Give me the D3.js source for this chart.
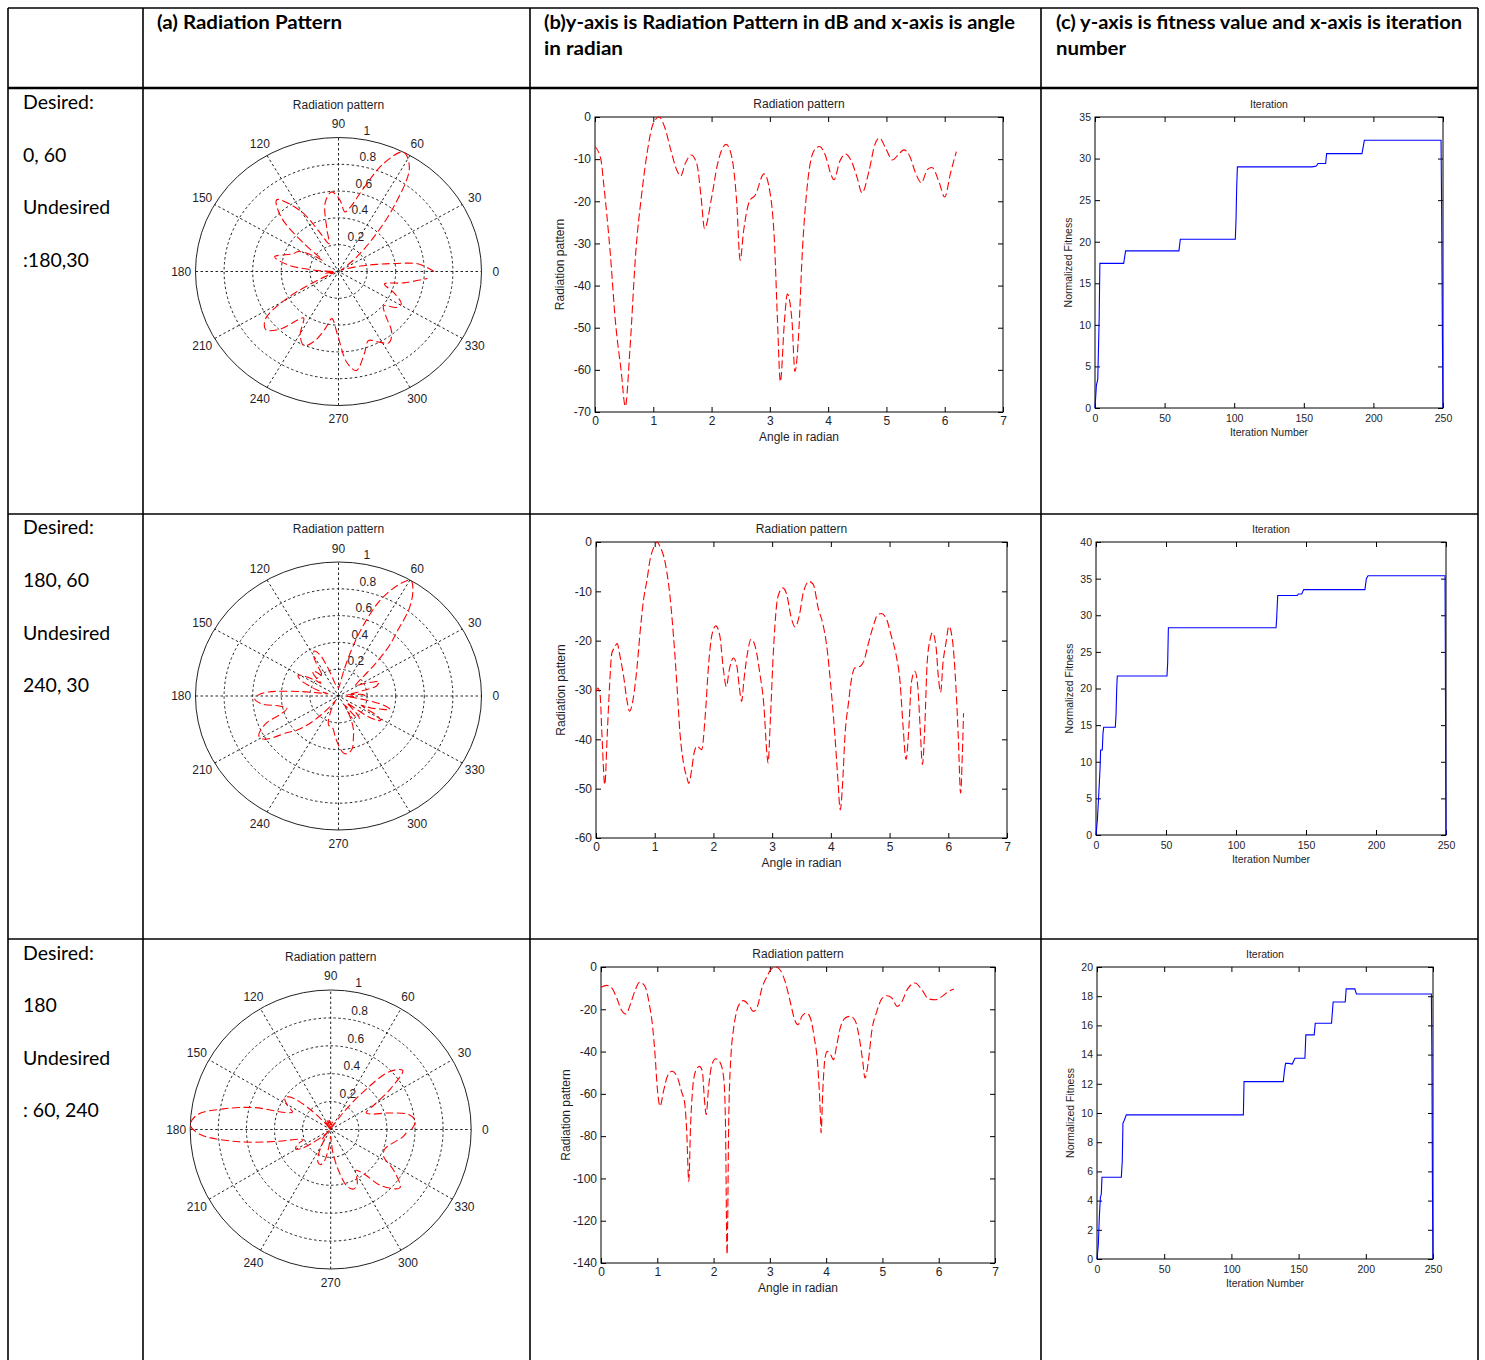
<!DOCTYPE html>
<html><head><meta charset="utf-8">
<script src="https://cdn.jsdelivr.net/npm/d3@7"></script>
<style>body{margin:0;background:#fff}svg{display:block}</style>
</head><body>
<svg id="c" width="1485" height="1360"></svg>
<script>
// ---------------- DATA ----------------
const headerLines = [
  ["(a) Radiation Pattern"],
  ["(b)y-axis is Radiation Pattern in dB and x-axis is angle", "in radian"],
  ["(c) y-axis is fitness value and x-axis is iteration", "number"]
];
const conditionLabels = [
  ["Desired:", "0, 60", "Undesired", ":180,30"],
  ["Desired:", "180, 60", "Undesired", "240, 30"],
  ["Desired:", "180", "Undesired", ": 60, 240"]
];
const polarTitle = "Radiation pattern";
const lineTitle = "Radiation pattern";
const lineXLabel = "Angle in radian";
const lineYLabel = "Radiation pattern";
const fitTitle = "Iteration";
const fitXLabel = "Iteration Number";
const fitYLabel = "Normalized Fitness";

const polarAngleTicks = [0, 30, 60, 90, 120, 150, 180, 210, 240, 270, 300, 330];
const polarRingTicks = [0.2, 0.4, 0.6, 0.8, 1];
const angleTicks = [0, 1, 2, 3, 4, 5, 6, 7];
const dbTicks1 = [-70, -60, -50, -40, -30, -20, -10, 0];
const dbTicks2 = [-60, -50, -40, -30, -20, -10, 0];
const dbTicks3 = [-140, -120, -100, -80, -60, -40, -20, 0];
const iterTicks = [0, 50, 100, 150, 200, 250];
const fitTicks1 = [0, 5, 10, 15, 20, 25, 30, 35];
const fitTicks2 = [0, 5, 10, 15, 20, 25, 30, 35, 40];
const fitTicks3 = [0, 2, 4, 6, 8, 10, 12, 14, 16, 18, 20];

// Row 1 : angle (rad), pattern (dB), normalised polar gain
const angle1 = [0,0.1,0.15,0.2,0.26,0.35,0.45,0.52,0.6,0.7, 0.8,0.9,1.0,1.1,1.2, 1.3,1.4,1.47,1.55,1.65, 1.75,1.82,1.88,2.0,2.1, 2.25,2.35,2.43,2.49,2.55, 2.65,2.75,2.9,3.0,3.08, 3.13,3.18,3.25,3.3,3.38, 3.43,3.5,3.55,3.65,3.75, 3.85,3.95,4.05,4.1,4.2, 4.3,4.4,4.5,4.58,4.7, 4.8,4.88,5.0,5.1,5.2, 5.3,5.4,5.5,5.6,5.7, 5.78,5.9,6.0,6.1,6.2];
const dB1 = [-7,-10,-16,-22.8,-32,-48.5,-60.4,-68.7,-55,-32, -18.4,-8,-1.5,0,-2.6, -7.8,-12.5,-14,-11,-9, -11.3,-19,-26.5,-19.2,-11.3, -6.5,-9.7,-20,-34,-27, -20,-18.5,-13.5,-17.7,-30, -48,-62.8,-48.5,-42,-48.5, -60.4,-50,-34,-15.3,-8.2, -7,-9,-13.7,-14.9,-10.5, -8.8,-10.5,-14.5,-18,-12.9, -6.6,-5,-7.8,-10.2,-9, -7.8,-9.3,-13.3,-15.6,-12.5, -12,-15.3,-19,-13.3,-8.2];
const gain1 = [0.668,0.562,0.398,0.269,0.158,0.061,0.031,0.019,0.042,0.158, 0.347,0.631,0.917,1,0.861, 0.638,0.487,0.447,0.531,0.596, 0.522,0.335,0.218,0.331,0.522, 0.688,0.572,0.316,0.141,0.211, 0.316,0.345,0.460,0.361,0.178, 0.063,0.027,0.061,0.089,0.061, 0.031,0.056,0.141,0.415,0.624, 0.668,0.596,0.455,0.424,0.546, 0.603,0.546,0.434,0.355,0.476, 0.684,0.750,0.638,0.556,0.596, 0.638,0.586,0.465,0.407,0.487, 0.501,0.415,0.335,0.465,0.624];

// Row 2
const angle2 = [0,0.03,0.07,0.1,0.15,0.19,0.23,0.27,0.31,0.36, 0.41,0.47,0.53,0.57,0.63, 0.7,0.75,0.81,0.87,0.92, 0.98,1.04,1.09,1.18,1.26, 1.32,1.38,1.43,1.49,1.55, 1.58,1.63,1.67,1.72,1.8, 1.86,1.92,1.97,2.04,2.11, 2.17,2.22,2.27,2.34,2.4, 2.44,2.48,2.52,2.58,2.64, 2.71,2.79,2.86,2.91,2.93, 2.97,3.02,3.08,3.13,3.18, 3.25,3.32,3.39,3.46,3.53, 3.63,3.7,3.79,3.86,3.93, 4.0,4.07,4.12,4.16,4.2, 4.24,4.3,4.35,4.41,4.5, 4.56,4.64,4.72,4.8,4.86, 4.95,5.03,5.11,5.18,5.23, 5.28,5.33,5.37,5.43,5.48, 5.52,5.56,5.6,5.64,5.69, 5.73,5.79,5.83,5.87,5.91, 5.96,6.01,6.07,6.13,6.17, 6.21,6.24,6.26];
const dB2 = [-30.3,-29.6,-31,-38.7,-49.2,-39.4,-29.3,-22.5,-21.5,-20.6, -23.2,-27.2,-32.3,-34.3,-32, -25.2,-18.4,-11.7,-7.6,-3.6, -1.2,0,-0.9,-4.3,-11, -19.1,-29.3,-38.7,-44.8,-47.8, -48.9,-46.1,-42.8,-41.4,-42.1, -35.3,-24.5,-19.1,-17,-19.1, -25.9,-29.3,-25.9,-23.5,-25.2, -29.3,-32.3,-27.9,-22.5,-19.7, -21.1,-26.6,-33.3,-42.8,-44.8, -36,-22.5,-12.4,-10,-9.3, -10.7,-15.1,-17.2,-15.1,-10.3, -8,-8.6,-13.7,-16.4,-21.1, -29.3,-39.4,-48.2,-54.3,-48.9, -39.4,-32.6,-27.9,-25.5,-25.2, -24.2,-20.5,-17.1,-14.7,-14.5, -15.7,-19.1,-22.8,-28.6,-37.4, -44.1,-37.4,-28.6,-26.2,-29.3, -37.4,-45.1,-37.4,-24.5,-19.8, -18.4,-21.1,-27.2,-30.5,-24.5, -20.5,-17.1,-19.8,-29.3,-39.4, -50.9,-42.8,-34.7];
const gain2 = [0.175,0.182,0.168,0.108,0.059,0.104,0.185,0.274,0.290,0.305, 0.263,0.209,0.156,0.139,0.158, 0.234,0.347,0.510,0.646,0.813, 0.933,1,0.950,0.781,0.531, 0.333,0.185,0.108,0.076,0.064, 0.060,0.070,0.085,0.092,0.089, 0.131,0.244,0.333,0.376,0.333, 0.225,0.185,0.225,0.259,0.234, 0.185,0.156,0.201,0.274,0.322, 0.297,0.216,0.147,0.085,0.076, 0.126,0.274,0.490,0.562,0.586, 0.540,0.419,0.372,0.419,0.553, 0.631,0.610,0.455,0.389,0.297, 0.185,0.104,0.062,0.044,0.060, 0.104,0.153,0.201,0.230,0.234, 0.248,0.307,0.374,0.429,0.434, 0.405,0.333,0.269,0.193,0.116, 0.079,0.116,0.193,0.221,0.185, 0.116,0.075,0.116,0.244,0.320, 0.347,0.297,0.209,0.173,0.244, 0.307,0.374,0.320,0.185,0.104, 0.053,0.085,0.136];

// Row 3
const angle3 = [0,0.1,0.19,0.28,0.36,0.44,0.52,0.6,0.69,0.78, 0.86,0.92,0.96,1.0,1.05, 1.11,1.18,1.26,1.35,1.43, 1.49,1.52,1.56,1.59,1.63, 1.68,1.75,1.8,1.84,1.87, 1.91,1.97,2.04,2.12,2.18, 2.21,2.24,2.27,2.31,2.35, 2.41,2.47,2.53,2.62,2.71, 2.78,2.86,2.95,3.03,3.11, 3.18,3.27,3.36,3.44,3.5, 3.57,3.65,3.72,3.79,3.85, 3.9,3.91,3.94,3.98,4.02, 4.08,4.13,4.19,4.25,4.34, 4.43,4.52,4.59,4.65,4.69, 4.75,4.81,4.9,4.99,5.08, 5.17,5.26,5.35,5.44,5.58, 5.7,5.82,5.94,6.06,6.18, 6.27];
const dB3 = [-9.6,-8.7,-9.9,-14.7,-20.2,-22.2,-17.8,-11.5,-7.1,-9.1, -17.8,-28.9,-41.5,-57.2,-65.9, -58.8,-51.7,-49.3,-51.7,-58.8, -65.1,-76.1,-101.4,-76.1,-57.2, -49.3,-47,-49.3,-63.5,-69.8, -57.2,-46.2,-43.4,-45.4,-52.5, -71.4,-136,-71.4,-41.5,-30.4, -21,-17,-15.9,-17.8,-21, -18.6,-9.9,-4.4,-0.8,0, -1.3,-6.8,-16.2,-24.9,-27.3, -23.3,-21.8,-24.1,-33.6,-46.2, -71.4,-78.5,-58.8,-43,-39.9, -41.5,-43.8,-36.7,-28.9,-24.1, -23.3,-25.7,-33.6,-44.6,-52.5, -44.6,-30.4,-21,-15,-13.6, -14.7,-18.6,-16.2,-10.7,-7.6, -10.7,-15.1,-15.5,-13.9,-11.5, -10.4];
const gain3 = [0.575,0.606,0.566,0.429,0.313,0.279,0.359,0.516,0.665,0.592, 0.359,0.189,0.092,0.037,0.023, 0.034,0.051,0.059,0.051,0.034, 0.024,0.013,0.003,0.013,0.037, 0.059,0.067,0.059,0.026,0.018, 0.037,0.070,0.082,0.073,0.049, 0.016,0.0004,0.016,0.092,0.174, 0.299,0.376,0.400,0.359,0.299, 0.343,0.566,0.776,0.955,1, 0.928,0.676,0.394,0.238,0.208, 0.262,0.285,0.250,0.145,0.070, 0.016,0.011,0.034,0.084,0.101, 0.092,0.080,0.121,0.189,0.250, 0.262,0.228,0.145,0.077,0.049, 0.077,0.174,0.299,0.422,0.457, 0.429,0.343,0.394,0.540,0.646, 0.540,0.419,0.410,0.449,0.516, 0.550];

// Fitness vs iteration
const iter1 = [0,1,2,3,3.5,20.6,22,60.3,61.3,100.8,101.3,101.8,102.3,156,159,160.2,165.7,166.4,191.8,193.5,248.6,249,249.3,249.6,250];
const fit1  = [0,2.7,3.5,10.8,17.4,17.4,18.9,18.9,20.3,20.3,22.6,26.6,29,29,29.1,29.4,29.4,30.6,30.6,32.2,32.2,24.2,16,8,0];
const iter2 = [0,1,1.9,2.9,3.3,4.5,5,5.5,13.8,14.3,14.8,15.2,50.7,51.2,51.7,128.6,129,129.8,143.8,144.5,147,148.3,192.1,193.1,194.3,249.3,249.5,249.8,250];
const fit2  = [0,2.1,5.3,9.1,11.6,11.6,13.9,14.7,14.7,16.4,20,21.7,21.7,23.5,28.3,28.3,29.4,32.7,32.7,32.9,32.9,33.5,33.5,35,35.4,35.4,26.8,8.8,0];
const iter3 = [0,1,1.7,2.5,3.2,3.7,18.1,18.8,19.3,20.3,21.8,108.9,109.4,138.6,139.4,140.3,142.6,145.3,147.3,154.7,155.4,161.6,162.4,174.5,175.7,184.7,185.4,191.8,193,248.8,249.2,249.6,250];
const fit3  = [0,1,2.8,4.2,4.45,5.6,5.6,6.7,9.3,9.5,9.87,9.87,12.15,12.15,12.85,13.4,13.4,13.35,13.75,13.75,15.35,15.35,16.15,16.15,17.6,17.6,18.5,18.5,18.15,18.15,13.6,4.5,0];

// ---------------- LAYOUT ----------------
const FONT_CHART = "'Liberation Sans', Arial, Helvetica, sans-serif";
const FONT_DOC = "Lato, 'Open Sans', sans-serif";
const TXT = "#1e1e2a";
const svg = d3.select("#c");

const rows = [
  { polarBox: {cx: 338.5, cy: 271.5, rx: 143, ry: 134},
    lineBox: {l: 595, r: 1003, t: 117, b: 412}, fitBox: {l: 1095, r: 1443, t: 117, b: 408},
    angle: angle1, dB: dB1, gain: gain1, dbDomain: [-70, 0], dbTicks: dbTicks1,
    iter: iter1, fitness: fit1, fitDomain: [0, 35], fitTicks: fitTicks1, textY: [109, 162, 214, 267] },
  { polarBox: {cx: 338.5, cy: 696, rx: 143, ry: 134},
    lineBox: {l: 596, r: 1007, t: 542, b: 838}, fitBox: {l: 1096, r: 1446, t: 542, b: 835},
    angle: angle2, dB: dB2, gain: gain2, dbDomain: [-60, 0], dbTicks: dbTicks2,
    iter: iter2, fitness: fit2, fitDomain: [0, 40], fitTicks: fitTicks2, textY: [534, 587, 640, 692] },
  { polarBox: {cx: 330.7, cy: 1129.5, rx: 140.5, ry: 139.5},
    lineBox: {l: 601, r: 995, t: 967, b: 1263}, fitBox: {l: 1097, r: 1433, t: 967, b: 1259},
    angle: angle3, dB: dB3, gain: gain3, dbDomain: [-140, 0], dbTicks: dbTicks3,
    iter: iter3, fitness: fit3, fitDomain: [0, 20], fitTicks: fitTicks3, textY: [960, 1012, 1065, 1117] }
];

// ---------------- TABLE ----------------
const colX = [8, 143, 530, 1041, 1478];
const rowY = [8, 88, 514, 939];
const tbl = svg.append("g");
colX.forEach(x => tbl.append("line").attr("x1", x).attr("x2", x).attr("y1", 8).attr("y2", 1360)
  .attr("stroke", "#000").attr("stroke-width", 1.6));
rowY.forEach((y, i) => tbl.append("line").attr("x1", 8).attr("x2", 1478).attr("y1", y).attr("y2", y)
  .attr("stroke", "#000").attr("stroke-width", i === 1 ? 2.6 : 1.6));

const headerPos = [
  {x: 157, w: [185]},
  {x: 544, w: [471, 79]},
  {x: 1056, w: [406, 70]}
];
headerLines.forEach((lines, i) => {
  lines.forEach((s, j) => {
    tbl.append("text").attr("x", headerPos[i].x).attr("y", 29 + j * 26)
      .attr("font-family", FONT_DOC).attr("font-weight", "bold").attr("font-size", 19)
      .attr("textLength", headerPos[i].w[j]).attr("lengthAdjust", "spacingAndGlyphs")
      .attr("fill", "#000").text(s);
  });
});
rows.forEach((row, i) => {
  conditionLabels[i].forEach((s, j) => {
    tbl.append("text").attr("x", 23).attr("y", row.textY[j])
      .attr("font-family", FONT_DOC).attr("font-size", 19.5).attr("fill", "#000").text(s);
  });
});

// ---------------- POLAR ----------------
function polarChart(cfg, angles, gains) {
  const g = svg.append("g");
  const sx = d3.scaleLinear().domain([-1, 1]).range([cfg.cx - cfg.rx, cfg.cx + cfg.rx]);
  const sy = d3.scaleLinear().domain([-1, 1]).range([cfg.cy + cfg.ry, cfg.cy - cfg.ry]);
  const rad = d => d * Math.PI / 180;
  polarAngleTicks.filter(a => a < 180).forEach(a => {
    g.append("line")
      .attr("x1", sx(-Math.cos(rad(a)))).attr("y1", sy(-Math.sin(rad(a))))
      .attr("x2", sx(Math.cos(rad(a)))).attr("y2", sy(Math.sin(rad(a))))
      .attr("stroke", "#222").attr("stroke-width", 1).attr("stroke-dasharray", "2.5,2.5");
  });
  polarRingTicks.forEach(r => {
    g.append("ellipse").attr("cx", sx(0)).attr("cy", sy(0))
      .attr("rx", sx(r) - sx(0)).attr("ry", sy(0) - sy(r))
      .attr("fill", "none").attr("stroke", "#222")
      .attr("stroke-width", 1)
      .attr("stroke-dasharray", r === 1 ? null : "2.5,2.5");
  });
  polarAngleTicks.forEach(a => {
    g.append("text").attr("x", sx(1.1 * Math.cos(rad(a)))).attr("y", sy(1.1 * Math.sin(rad(a))))
      .attr("dy", "0.36em").attr("text-anchor", "middle")
      .attr("font-family", FONT_CHART).attr("font-size", 12).attr("fill", TXT).text(a);
  });
  polarRingTicks.forEach(r => {
    g.append("text").attr("x", sx(r * Math.cos(rad(82))) + 5).attr("y", sy(r * Math.sin(rad(82))) - 4)
      .attr("font-family", FONT_CHART).attr("font-size", 12).attr("fill", TXT).text(String(r));
  });
  g.append("text").attr("x", cfg.cx).attr("y", cfg.cy - cfg.ry - 29)
    .attr("text-anchor", "middle").attr("font-family", FONT_CHART).attr("font-size", 12)
    .attr("fill", TXT).text(polarTitle);
  const line = d3.line()
    .x((d, i) => sx(gains[i] * Math.cos(angles[i])))
    .y((d, i) => sy(gains[i] * Math.sin(angles[i])))
    .curve(d3.curveCatmullRom.alpha(0.5));
  g.append("path").datum(angles).attr("d", line)
    .attr("fill", "none").attr("stroke", "#ff0000").attr("stroke-width", 1.1)
    .attr("stroke-dasharray", "8,3.5");
}

// ---------------- CARTESIAN ----------------
function styleAxis(sel, fs) {
  sel.select(".domain").remove();
  sel.selectAll(".tick line").attr("stroke", "#000");
  sel.selectAll("text").attr("font-family", FONT_CHART).attr("font-size", fs).attr("fill", TXT);
}
function frame(g, x, y, cfg, xTicks, yTicks, fs, xPad) {
  const fmt = d => String(d);
  g.append("g").attr("transform", `translate(0,${cfg.b})`)
    .call(d3.axisBottom(x).tickValues(xTicks).tickFormat(fmt).tickSize(-5).tickPadding(xPad))
    .call(s => styleAxis(s, fs));
  g.append("g").attr("transform", `translate(0,${cfg.t})`)
    .call(d3.axisTop(x).tickValues(xTicks).tickFormat("").tickSize(-5))
    .call(s => styleAxis(s, fs));
  g.append("g").attr("transform", `translate(${cfg.l},0)`)
    .call(d3.axisLeft(y).tickValues(yTicks).tickFormat(fmt).tickSize(-5).tickPadding(4))
    .call(s => styleAxis(s, fs));
  g.append("g").attr("transform", `translate(${cfg.r},0)`)
    .call(d3.axisRight(y).tickValues(yTicks).tickFormat("").tickSize(-5))
    .call(s => styleAxis(s, fs));
  g.append("rect").attr("x", cfg.l).attr("y", cfg.t).attr("width", cfg.r - cfg.l).attr("height", cfg.b - cfg.t)
    .attr("fill", "none").attr("stroke", "#000").attr("stroke-width", 1);
}
function labels(g, cfg, title, xl, yl, yOff, xOff, fs) {
  const mx = (cfg.l + cfg.r) / 2;
  g.append("text").attr("x", mx).attr("y", cfg.t - 9).attr("text-anchor", "middle")
    .attr("font-family", FONT_CHART).attr("font-size", fs).attr("fill", TXT).text(title);
  g.append("text").attr("x", mx).attr("y", cfg.b + xOff).attr("text-anchor", "middle")
    .attr("font-family", FONT_CHART).attr("font-size", fs).attr("fill", TXT).text(xl);
  g.append("text").attr("transform", `translate(${cfg.l - yOff},${(cfg.t + cfg.b) / 2}) rotate(-90)`)
    .attr("text-anchor", "middle").attr("dy", "0.35em")
    .attr("font-family", FONT_CHART).attr("font-size", fs).attr("fill", TXT).text(yl);
}
function lineChart(cfg, xs, ys, dom, yTicks) {
  const g = svg.append("g");
  const x = d3.scaleLinear().domain([0, 7]).range([cfg.l, cfg.r]);
  const y = d3.scaleLinear().domain(dom).range([cfg.b, cfg.t]);
  frame(g, x, y, cfg, angleTicks, yTicks, 12, 4.5);
  labels(g, cfg, lineTitle, lineXLabel, lineYLabel, 35, 29, 12);
  const line = d3.line().x((d, i) => x(xs[i])).y((d, i) => y(ys[i])).curve(d3.curveMonotoneX);
  g.append("path").datum(xs).attr("d", line).attr("fill", "none")
    .attr("stroke", "#ff0000").attr("stroke-width", 1.1).attr("stroke-dasharray", "8,3.5");
}
function fitChart(cfg, xs, ys, dom, yTicks) {
  const g = svg.append("g");
  const x = d3.scaleLinear().domain([0, 250]).range([cfg.l, cfg.r]);
  const y = d3.scaleLinear().domain(dom).range([cfg.b, cfg.t]);
  frame(g, x, y, cfg, iterTicks, yTicks, 10.5, 6.5);
  labels(g, cfg, fitTitle, fitXLabel, fitYLabel, 27, 28, 10.5);
  const line = d3.line().x((d, i) => x(xs[i])).y((d, i) => y(ys[i]));
  g.append("path").datum(xs).attr("d", line).attr("fill", "none")
    .attr("stroke", "#0000ff").attr("stroke-width", 1.1);
}

rows.forEach(row => {
  polarChart(row.polarBox, row.angle, row.gain);
  lineChart(row.lineBox, row.angle, row.dB, row.dbDomain, row.dbTicks);
  fitChart(row.fitBox, row.iter, row.fitness, row.fitDomain, row.fitTicks);
});
</script>
</body></html>
